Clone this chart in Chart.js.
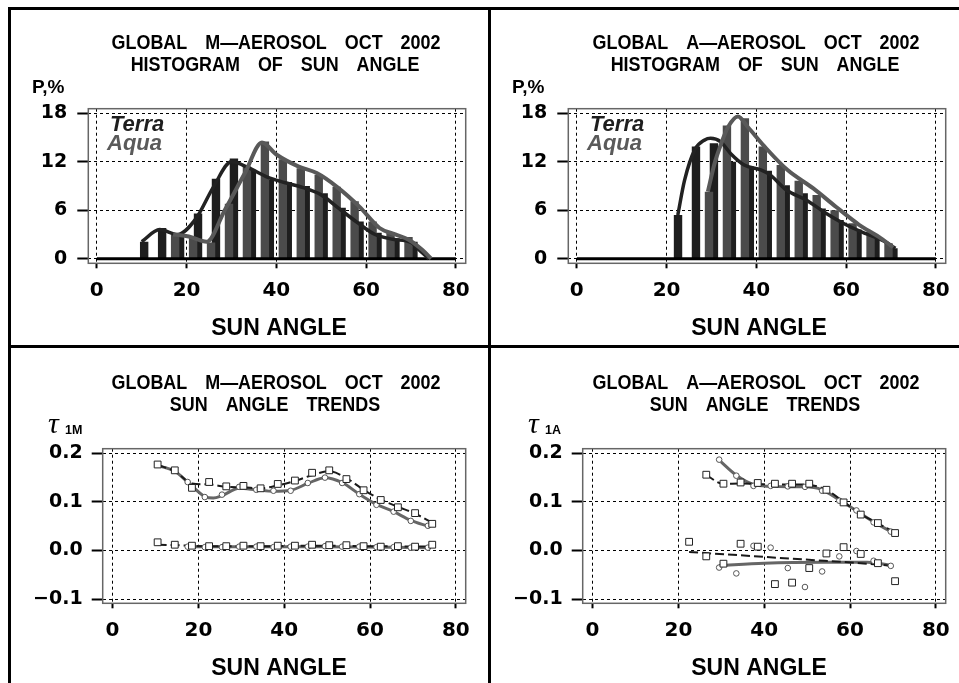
<!DOCTYPE html>
<html>
<head>
<meta charset="utf-8">
<script src="https://cdn.jsdelivr.net/npm/chart.js@4.4.1/dist/chart.umd.min.js"></script>
<style>
  html, body { margin: 0; padding: 0; background: #fff; }
  #page { position: relative; width: 959px; height: 683px; overflow: hidden; }
  canvas { position: absolute; }
  .rule { position: absolute; background: #000; }
</style>
</head>
<body>
<div id="page">
  <canvas id="histM" width="480" height="340" style="left:0;top:0"></canvas>
  <canvas id="histA" width="480" height="340" style="left:480px;top:0"></canvas>
  <canvas id="trendM" width="480" height="340" style="left:0;top:340px"></canvas>
  <canvas id="trendA" width="480" height="340" style="left:480px;top:340px"></canvas>
  <div class="rule" style="left:8px;top:7px;width:951px;height:3px"></div>
  <div class="rule" style="left:8px;top:345px;width:951px;height:3px"></div>
  <div class="rule" style="left:8px;top:7px;width:3px;height:676px"></div>
  <div class="rule" style="left:488px;top:7px;width:3px;height:676px"></div>
</div>
<script>
// ---- data ----
const xTicks = [0, 20, 40, 60, 80];
const histYTicks = [0, 6, 12, 18];
const trendYTicks = [-0.1, 0, 0.1, 0.2];
const trendYLabels = ['\u22120.1', '0.0', '0.1', '0.2'];

// histogram bins, sun angle (deg)
const binAngles = [10, 14, 18, 22, 26, 30, 34, 38, 42, 46, 50, 54, 58, 62, 66, 70];
const terraHistM = [2.1, 3.8, 2.8, 5.6, 9.9, 12.4, 11.0, 9.8, 9.5, 9.0, 8.1, 6.3, 4.6, 3.2, 2.5, 2.1];
const aquaHistM  = [null, null, 3.0, 2.6, 2.0, 6.8, 11.4, 14.5, 12.3, 11.2, 10.4, 8.9, 7.1, 4.6, 3.2, 2.7];
const terraHistA = [null, null, null, 5.4, 13.9, 14.3, 12.0, 11.4, 10.9, 9.1, 8.1, 6.2, 4.8, 3.6, 2.7, 1.3];
const aquaHistA  = [null, null, null, null, null, 8.3, 16.5, 17.4, 13.9, 11.6, 9.65, 7.9, 6.0, 4.4, 3.3, 1.9];

// smoothed histogram curves
const terraCurveMX = [10, 14, 18, 22, 26, 30, 34, 38, 42, 46, 50, 54, 58, 62, 66, 70, 72, 74];
const terraCurveMY = [2.1, 3.6, 3.0, 4.9, 8.9, 12.0, 11.2, 10.1, 9.4, 8.8, 7.9, 6.2, 4.5, 3.0, 2.4, 2.0, 1.0, 0];
const aquaCurveMX = [17, 20.5, 24.5, 28.5, 33, 36.8, 40, 45, 49, 53.5, 58.5, 63, 66.5, 69.5, 72.5, 74.5];
const aquaCurveMY = [3.0, 2.75, 2.1, 6.0, 10.6, 14.4, 12.9, 11.4, 10.6, 8.9, 6.45, 3.8, 3.0, 2.35, 1.1, 0];
const terraCurveAX = [22.5, 24, 26.3, 28.5, 29.8, 32, 34.3, 37.3, 41, 43, 46.7, 51, 55.6, 60, 64.4, 68, 71];
const terraCurveAY = [5.4, 9.7, 13.5, 14.7, 14.9, 14.5, 13.0, 11.6, 11.0, 10.4, 8.5, 7.3, 5.6, 4.2, 3.1, 2.3, 1.3];
const aquaCurveAX = [29.2, 30.7, 32.2, 33.7, 35.9, 38.1, 41.8, 46.9, 52.7, 57.8, 62.9, 67.3, 70.5];
const aquaCurveAY = [8.3, 11.8, 14.3, 16.3, 17.6, 16.3, 13.9, 11.0, 8.7, 6.4, 4.2, 2.7, 1.4];
const zeroLineX = [0, 80];

// sun angle trends, M-aerosol
const terraAngM = [10.5, 14.5, 18.5, 22.5, 26.5, 30.5, 34.5, 38.5, 42.5, 46.5, 50.5, 54.5, 58.5, 62.5, 66.5, 70.5, 74.5];
const aquaAngM  = [17.5, 21.5, 25.5, 29.5, 33.5, 37.5, 41.5, 45.5, 49.5, 53.5, 57.5, 61.5, 65.5, 69.5, 73.5];
const terraTauM = [0.177, 0.165, 0.129, 0.141, 0.132, 0.133, 0.128, 0.137, 0.144, 0.160, 0.165, 0.147, 0.124, 0.104, 0.089, 0.077, 0.055];
const aquaTauM  = [0.141, 0.110, 0.115, 0.131, 0.125, 0.123, 0.123, 0.139, 0.150, 0.139, 0.116, 0.094, 0.080, 0.061, 0.051];
const terraLowM = [0.017, 0.012, 0.010, 0.009, 0.009, 0.010, 0.009, 0.010, 0.010, 0.012, 0.011, 0.011, 0.009, 0.008, 0.009, 0.008, 0.012];
const aquaLowM  = [0.008, 0.007, 0.007, 0.008, 0.008, 0.007, 0.008, 0.008, 0.009, 0.008, 0.008, 0.007, 0.007, 0.006, 0.006];
const terraFitM = [0.176, 0.163, 0.138, 0.136, 0.131, 0.130, 0.128, 0.134, 0.143, 0.155, 0.163, 0.149, 0.125, 0.105, 0.090, 0.076, 0.057];
const aquaFitMX = [10.5, 14.5, 17.5, 21.5, 23.5, 25.5, 29.5, 33.5, 37.5, 41.5, 45.5, 49.5, 53.5, 57.5, 61.5, 65.5, 69.5, 73.5];
const aquaFitM  = [0.175, 0.163, 0.141, 0.111, 0.108, 0.113, 0.128, 0.125, 0.122, 0.124, 0.138, 0.150, 0.140, 0.116, 0.095, 0.080, 0.062, 0.050];
const terraLowFitMX = [10.5, 14.5, 22.5, 34.5, 46.5, 58.5, 74.5];
const terraLowFitM  = [0.012, 0.011, 0.009, 0.009, 0.010, 0.009, 0.008];
const aquaLowFitMX = [17.5, 33.5, 49.5, 73.5];
const aquaLowFitM  = [0.008, 0.008, 0.008, 0.006];

// sun angle trends, A-aerosol
const terraAngA = [26.5, 30.5, 34.5, 38.5, 42.5, 46.5, 50.5, 54.5, 58.5, 62.5, 66.5, 70.5];
const aquaAngA  = [29.5, 33.5, 37.5, 41.5, 45.5, 49.5, 53.5, 57.5, 61.5, 65.5, 69.5];
const terraTauA = [0.156, 0.1375, 0.140, 0.139, 0.1375, 0.1375, 0.1375, 0.125, 0.099, 0.074, 0.0565, 0.036];
const aquaTauA  = [0.187, 0.154, 0.133, 0.133, 0.132, 0.131, 0.123, 0.1025, 0.0825, 0.058, 0.039];
const terraLowAngA = [22.5, 26.5, 30.5, 34.5, 38.5, 42.5, 46.5, 50.5, 54.5, 58.5, 62.5, 66.5, 70.5];
const terraLowA = [0.018, -0.012, -0.027, 0.014, 0.008, -0.069, -0.066, -0.036, -0.006, 0.007, -0.007, -0.026, -0.063];
const aquaLowA  = [-0.035, -0.047, 0.0097, 0.006, -0.036, -0.075, -0.043, -0.012, -0.001, -0.021, -0.0315];
const terraFitA = [0.155, 0.137, 0.138, 0.137, 0.136, 0.136, 0.135, 0.125, 0.100, 0.075, 0.056, 0.037];
const aquaFitA  = [0.186, 0.155, 0.136, 0.132, 0.131, 0.131, 0.125, 0.104, 0.082, 0.059, 0.039];
const terraLowFitAX = [22.5, 40, 54, 64, 70.5];
const terraLowFitA  = [-0.003, -0.013, -0.021, -0.027, -0.032];
const aquaLowFitAX = [29.5, 40, 54, 64, 69.5];
const aquaLowFitA  = [-0.031, -0.026, -0.024, -0.024, -0.030];

// ---- drawing ----
const FAMILY = '"Liberation Sans", Arial, Helvetica, sans-serif';
const TICKFAMILY = '"DejaVu Sans", Verdana, sans-serif';
const DARK = '#1e1e1e';
const GRAY = '#4b4b4b';

function pts(xs, ys) {
  return xs.map((x, i) => ({ x: x, y: ys[i] }));
}

// frame round the plot area and the free text of each panel
const panelText = {
  id: 'panelText',
  beforeDatasetsDraw(chart) {
    const a = chart.chartArea;
    const ctx = chart.ctx;
    ctx.save();
    ctx.strokeStyle = '#666';
    ctx.lineWidth = 1.5;
    ctx.strokeRect(a.left, a.top, a.right - a.left, a.bottom - a.top);
    ctx.restore();
  },
  afterDraw(chart, args, opts) {
    const ctx = chart.ctx;
    for (const t of opts.items) {
      ctx.save();
      ctx.textBaseline = 'alphabetic';
      ctx.font = t.font;
      ctx.fillStyle = t.color || '#000';
      ctx.textAlign = t.align || 'center';
      ctx.translate(t.x, t.y);
      ctx.scale(t.sx || 1, 1);
      ctx.fillText(t.text, 0, 0);
      ctx.restore();
    }
  }
};

function xScale() {
  return {
    type: 'linear', min: -1.9, max: 82.2, offset: false,
    afterBuildTicks: s => { s.ticks = xTicks.map(v => ({ value: v })); },
    afterFit: s => { s.height = 76.7; },
    grid: { offset: false, color: '#000', lineWidth: 1, tickLength: 5, tickColor: '#000', tickWidth: 2 },
    border: { display: false, dash: [3, 3] },
    ticks: { color: '#000', padding: 10, autoSkip: false, maxRotation: 0,
      font: { family: TICKFAMILY, size: 20, weight: 'bold' } }
  };
}

function yScale(min, max, tickVals, labels, width, pad) {
  return {
    type: 'linear', min: min, max: max,
    afterBuildTicks: s => { s.ticks = tickVals.map(v => ({ value: v })); },
    afterFit: s => { s.width = width; },
    grid: { color: '#000', lineWidth: 1, tickLength: 11, tickColor: '#000', tickWidth: 2 },
    border: { display: false, dash: [3, 3] },
    ticks: { color: '#000', padding: pad, autoSkip: false,
      callback: (v, i) => labels[i],
      font: { family: TICKFAMILY, size: 19, weight: 'bold' } }
  };
}

function titleItems(line1, line2) {
  return [
    { text: line1, x: 276, y: 48.5, sx: 0.92, font: 'bold 19.5px ' + FAMILY },
    { text: line2, x: 275, y: 70.5, sx: 0.92, font: 'bold 19.5px ' + FAMILY },
    { text: 'SUN ANGLE', x: 279, y: 335, font: 'bold 23px ' + FAMILY }
  ];
}

function histChart(id, aero, terraBars, aquaBars, tcx, tcy, acx, acy) {
  const items = titleItems('GLOBAL\u2003' + aero + '\u2014AEROSOL\u2003OCT\u20032002',
                           'HISTOGRAM\u2003OF\u2003SUN\u2003ANGLE');
  items.push({ text: 'P,%', x: 32, y: 93, align: 'left', font: 'bold 19px ' + FAMILY });
  items.push({ text: 'Terra', x: 110, y: 131, align: 'left', color: DARK, font: 'italic bold 22px ' + FAMILY });
  items.push({ text: 'Aqua', x: 107, y: 150, align: 'left', color: '#5a5a5a', font: 'italic bold 22px ' + FAMILY });
  const barOpts = { categoryPercentage: 0.55, barPercentage: 1.7, borderWidth: 0 };
  new Chart(document.getElementById(id), {
    type: 'bar',
    data: {
      datasets: [
        { type: 'line', data: pts(acx, acy), borderColor: '#595959', borderWidth: 4, pointRadius: 0,
          cubicInterpolationMode: 'monotone', order: 0 },
        { type: 'line', data: pts(tcx, tcy), borderColor: '#222', borderWidth: 3.5, pointRadius: 0,
          cubicInterpolationMode: 'monotone', order: 1 },
        { type: 'line', data: pts(zeroLineX, [0, 0]), borderColor: '#000', borderWidth: 3, pointRadius: 0, order: 2 },
        Object.assign({ data: pts(binAngles, aquaBars), backgroundColor: GRAY, order: 3 }, barOpts),
        Object.assign({ data: pts(binAngles, terraBars), backgroundColor: DARK, order: 4 }, barOpts)
      ]
    },
    options: {
      responsive: false, animation: false,
      layout: { padding: { left: 0, right: 9.3, top: 108.7, bottom: 0 } },
      scales: {
        x: xScale(),
        y: yScale(-0.57, 18.57, histYTicks, histYTicks.map(String), 88.3, 10)
      },
      plugins: { legend: { display: false }, tooltip: { enabled: false }, panelText: { items: items } }
    },
    plugins: [panelText]
  });
}

function marker(xs, ys, square) {
  return {
    type: 'scatter', data: pts(xs, ys), showLine: false, order: 0,
    pointStyle: square ? 'rect' : 'circle',
    pointRadius: square ? 4.8 : 2.8,
    pointBorderWidth: 1,
    pointBorderColor: square ? '#222' : '#555',
    pointBackgroundColor: '#fff'
  };
}

function fit(xs, ys, dashed) {
  return {
    type: 'line', data: pts(xs, ys), pointRadius: 0, cubicInterpolationMode: 'monotone',
    borderColor: dashed ? '#1a1a1a' : '#666',
    borderWidth: dashed ? 2 : 3,
    borderDash: dashed ? [9, 4] : [],
    order: dashed ? 1 : 2
  };
}

function trendChart(id, aero, sets) {
  const items = titleItems('GLOBAL\u2003' + aero + '\u2014AEROSOL\u2003OCT\u20032002',
                           'SUN\u2003ANGLE\u2003TRENDS');
  items.push({ text: '\u03c4', x: 48, y: 93, align: 'left', font: 'italic 30px "Liberation Serif", serif' });
  items.push({ text: '1' + aero, x: 65, y: 94, align: 'left', font: 'bold 12.5px ' + FAMILY });
  new Chart(document.getElementById(id), {
    type: 'scatter',
    data: { datasets: sets },
    options: {
      responsive: false, animation: false,
      layout: { padding: { left: 0, right: 9.3, top: 108.7, bottom: 0 } },
      scales: {
        x: Object.assign(xScale(), { min: -2.3, max: 82.3 }),
        y: yScale(-0.1085, 0.2095, trendYTicks, trendYLabels, 102.7, 9)
      },
      plugins: { legend: { display: false }, tooltip: { enabled: false }, panelText: { items: items } }
    },
    plugins: [panelText]
  });
}

histChart('histM', 'M', terraHistM, aquaHistM, terraCurveMX, terraCurveMY, aquaCurveMX, aquaCurveMY);
histChart('histA', 'A', terraHistA, aquaHistA, terraCurveAX, terraCurveAY, aquaCurveAX, aquaCurveAY);

trendChart('trendM', 'M', [
  marker(terraAngM, terraTauM, true), marker(terraAngM, terraLowM, true),
  marker(aquaAngM, aquaTauM, false), marker(aquaAngM, aquaLowM, false),
  fit(terraAngM, terraFitM, true), fit(terraLowFitMX, terraLowFitM, true),
  fit(aquaFitMX, aquaFitM, false), fit(aquaLowFitMX, aquaLowFitM, false)
]);
trendChart('trendA', 'A', [
  marker(terraAngA, terraTauA, true), marker(terraLowAngA, terraLowA, true),
  marker(aquaAngA, aquaTauA, false), marker(aquaAngA, aquaLowA, false),
  fit(terraAngA, terraFitA, true), fit(terraLowFitAX, terraLowFitA, true),
  fit(aquaAngA, aquaFitA, false), fit(aquaLowFitAX, aquaLowFitA, false)
]);
</script>
</body>
</html>
